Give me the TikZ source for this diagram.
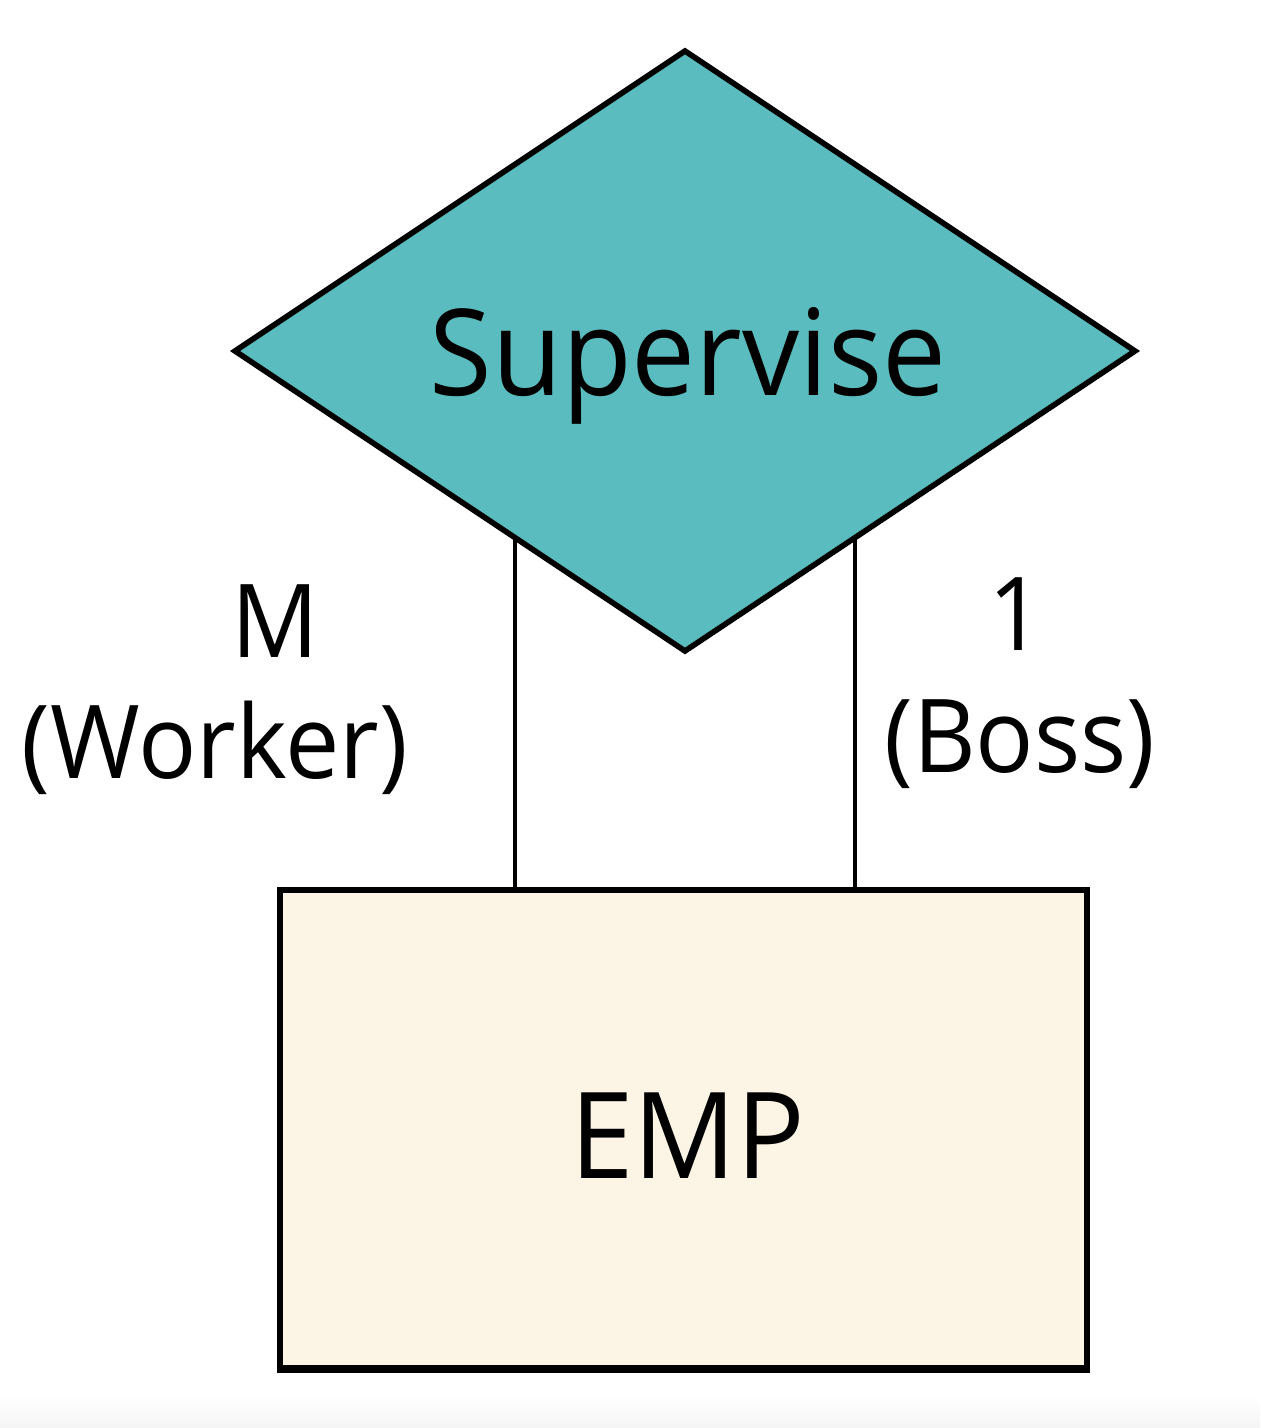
\documentclass[tikz,border=0pt]{standalone}
\usepackage{fontspec}
\setmainfont[FakeStretch=0.95]{Open Sans}
\usetikzlibrary{shapes.geometric,calc}
\definecolor{relfill}{HTML}{5ABCBE}
\definecolor{entfill}{HTML}{FCF4E4}
\begin{document}
\begin{tikzpicture}[x=0.5pt,y=-0.5pt,
  relbox/.style={diamond,draw=black,fill=relfill,line width=2.8pt,line join=miter,
    minimum width=450pt,minimum height=300pt,inner sep=0pt,outer sep=0pt},
  entbox/.style={rectangle,draw=black,fill=entfill,line width=2.6pt,
    minimum width=403.5pt,minimum height=240pt,inner sep=0pt,outer sep=0pt},
  bigtext/.style={font=\fontsize{60pt}{72pt}\selectfont,anchor=base,inner sep=0pt},
  cardtext/.style={font=\fontsize{51pt}{61pt}\selectfont,anchor=base,inner sep=0pt},
  conn/.style={draw=black,line width=2.3pt}]
\useasboundingbox (0,0) rectangle (1260,1428);
\shade[top color=white,bottom color=black!4] (0,1395) rectangle (1260,1428);
\node[entbox] (emp) at (683.5,1130) {};
\node[relbox] (sup) at (685,351) {};
\draw[conn] ($(sup.west)!0.6222!(sup.south)$) coordinate (l1) -- (l1 |- emp.north);
\draw[conn] ($(sup.east)!0.6222!(sup.south)$) coordinate (r1) -- (r1 |- emp.north);
\draw[draw=black,line width=1.6pt] ([yshift=1.6pt]emp.south west) -- ([yshift=1.6pt]emp.south east);
\node[bigtext] (suptext) at (688,395) {Supervise};
\node[bigtext] (emptext) at (688,1178) {EMP};
\node[cardtext] (m) at (275,657) {M};
\node[cardtext] (worker) at (215,778) {(Worker)};
\node[cardtext] (one) at (1016,650) {1};
\node[cardtext] (boss) at (1020,772) {(Boss)};
\end{tikzpicture}
\end{document}
